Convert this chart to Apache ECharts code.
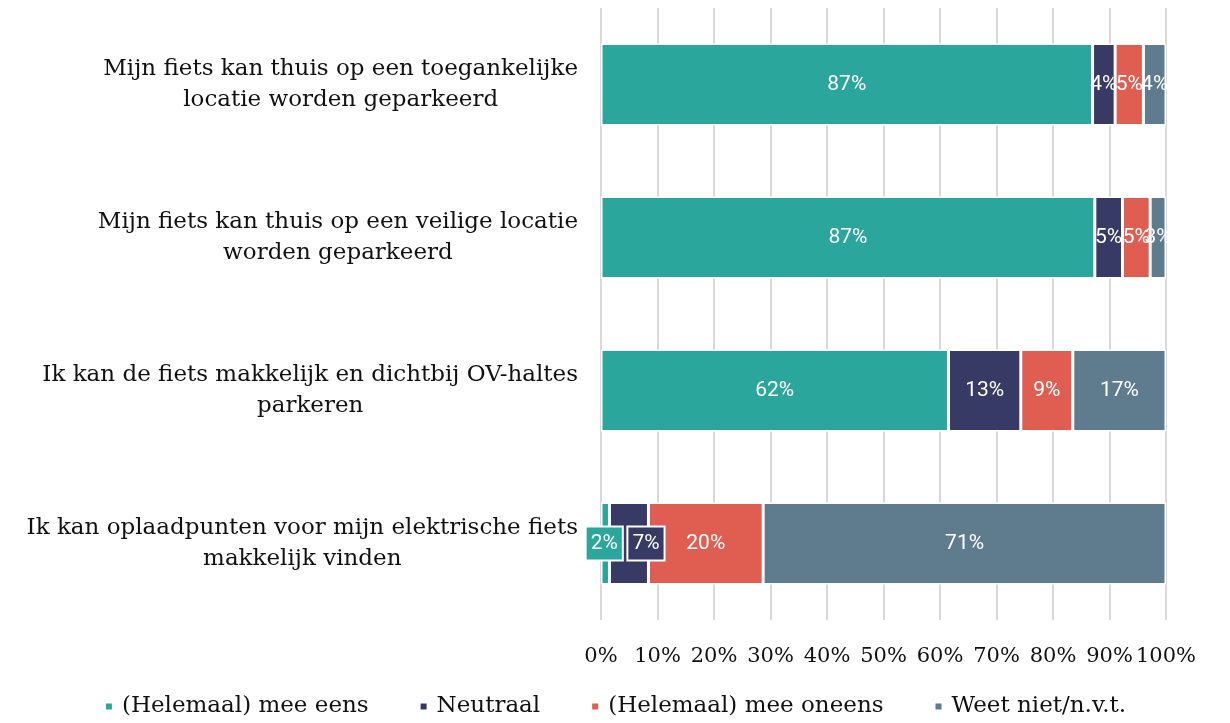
<!DOCTYPE html>
<html>
<head>
<meta charset="utf-8">
<script src="https://cdn.jsdelivr.net/npm/echarts@6/dist/echarts.min.js"></script>
<style>
  html, body { margin: 0; padding: 0; background: #fff; }
  #chart { width: 1230px; height: 723px; }
</style>
</head>
<body>
<div id="chart"></div>
<script>
// categories, top to bottom
const categories = [
  'Mijn fiets kan thuis op een toegankelijke\nlocatie worden geparkeerd',
  'Mijn fiets kan thuis op een veilige locatie\nworden geparkeerd',
  'Ik kan de fiets makkelijk en dichtbij OV-haltes\nparkeren',
  'Ik kan oplaadpunten voor mijn elektrische fiets\nmakkelijk vinden'
]
const seriesNames = ['(Helemaal) mee eens', 'Neutraal', '(Helemaal) mee oneens', 'Weet niet/n.v.t.']
const eens = [87, 87.4, 61.5, 1.5]
const neutraal = [4, 4.9, 12.8, 6.9]
const oneens = [5, 4.9, 9.2, 20.3]
const weetNiet = [4, 2.8, 16.5, 71.3]
const colors = ['#2ba69c', '#383a66', '#e05d52', '#5f7b8e']

const serif = '"DejaVu Serif", serif'
const sans = 'Roboto, sans-serif'

// small segments on the last row get a boxed label
function seriesData(values, idx) {
  return values.map((v, i) => {
    if (i === 3 && (idx === 0 || idx === 1)) {
      return {
        value: v,
        label: {
          backgroundColor: colors[idx],
          borderColor: '#fff',
          borderWidth: 2,
          padding: [6, 4, 5, 4],
          offset: [idx === 1 ? 17 : -1, 0]
        }
      }
    }
    return v
  })
}

const allValues = [eens, neutraal, oneens, weetNiet]

const option = {
  animation: false,
  grid: { left: 601, right: 64, top: 8, bottom: 103 },
  legend: {
    bottom: 0,
    left: 'center',
    icon: 'rect',
    itemWidth: 8,
    itemHeight: 8,
    itemGap: 50,
    textStyle: { fontFamily: serif, fontSize: 23, color: '#111', padding: [0, 0, 0, 4] },
    data: seriesNames
  },
  xAxis: {
    type: 'value',
    min: 0,
    max: 100,
    interval: 10,
    axisLine: { show: false },
    axisTick: { show: false },
    splitLine: { show: true, lineStyle: { color: '#d9d9d9', width: 2 } },
    axisLabel: {
      formatter: '{value}%',
      margin: 26,
      fontFamily: serif,
      fontSize: 21,
      color: '#111'
    }
  },
  yAxis: {
    type: 'category',
    inverse: true,
    data: categories,
    axisLine: { show: false },
    axisTick: { show: false },
    axisLabel: {
      margin: 23,
      align: 'right',
      formatter: v => v.split('\n').map(s => '{c|' + s + '}').join('\n'),
      rich: {
        c: { align: 'center', fontFamily: serif, fontSize: 23, lineHeight: 31, color: '#111' }
      }
    }
  },
  series: seriesNames.map((name, idx) => ({
    name: name,
    type: 'bar',
    stack: 'total',
    barWidth: 82,
    itemStyle: { color: colors[idx], borderColor: '#fff', borderWidth: 1.5 },
    label: {
      show: true,
      position: 'inside',
      color: '#fff',
      fontFamily: sans,
      fontSize: 21,
      formatter: p => Math.round(p.value) + '%'
    },
    data: seriesData(allValues[idx], idx)
  }))
}

const chart = echarts.init(document.getElementById('chart'))
chart.setOption(option)
</script>
</body>
</html>
